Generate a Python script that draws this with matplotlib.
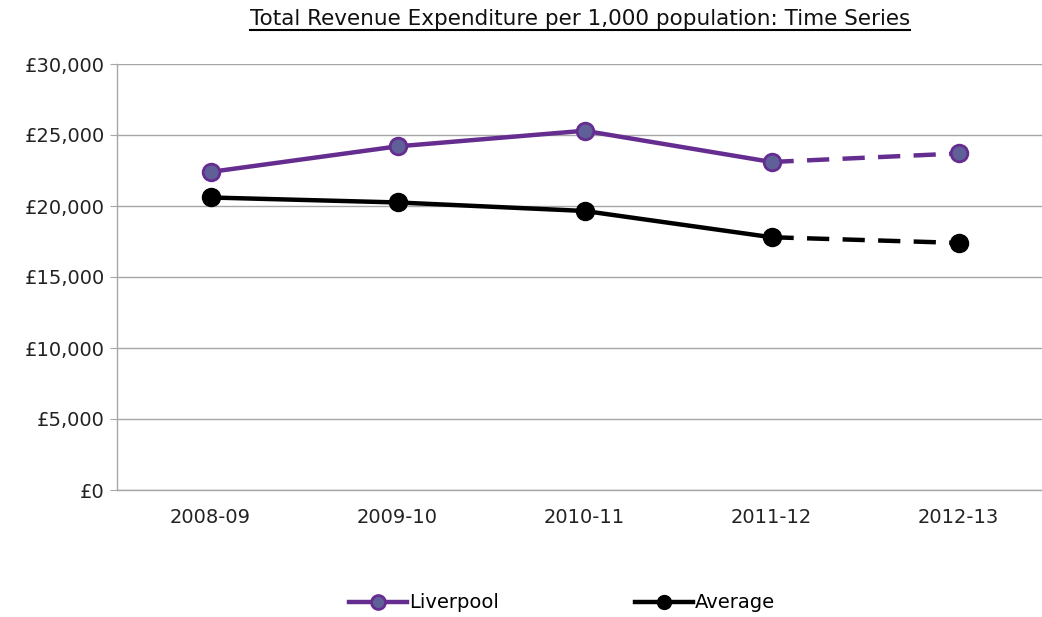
import matplotlib
matplotlib.use("Agg")
from matplotlib import pyplot as plt
from matplotlib.lines import Line2D

# Data
years = ["2008-09", "2009-10", "2010-11", "2011-12", "2012-13"]
liverpool = [22400, 24200, 25300, 23100, 23700]
average = [20600, 20250, 19650, 17800, 17400]

purple = "#662D91"
purple_face = "#606098"
grey = "#A6A6A6"

plt.rcParams["font.family"] = ["DejaVu Sans"]

fig = plt.figure(figsize=(10.42, 6.17), dpi=100)
ax = fig.add_axes([117 / 1042, 127 / 617, 935 / 1042, 426 / 617])

x = list(range(len(years)))

# Liverpool: solid to 2011-12, dashed for the last segment
ax.plot(x[:4], liverpool[:4], color=purple, lw=3.2, zorder=3)
ax.plot(x[3:], liverpool[3:], color=purple, lw=3.2, ls=(0, (5, 3)), zorder=3)
ax.plot(x, liverpool, ls="none", marker="o", ms=12, mfc=purple_face,
        mec=purple, mew=2, zorder=4)

# Average
ax.plot(x[:4], average[:4], color="black", lw=3.2, zorder=3)
ax.plot(x[3:], average[3:], color="black", lw=3.2, ls=(0, (5, 3)), zorder=3)
ax.plot(x, average, ls="none", marker="o", ms=13, mfc="black",
        mec="black", zorder=4)

ax.set_xlim(-0.5, 4.5)
ax.set_ylim(0, 30000)
ax.set_yticks(range(0, 30001, 5000))
ax.set_yticklabels(["£{:,}".format(v) for v in range(0, 30001, 5000)])
ax.set_xticks(x)
ax.set_xticklabels(years)

ax.grid(axis="y", color=grey, lw=1)
ax.set_axisbelow(True)
for side in ["top", "right"]:
    ax.spines[side].set_visible(False)
for side in ["left", "bottom"]:
    ax.spines[side].set_color(grey)
    ax.spines[side].set_linewidth(1)

ax.tick_params(axis="y", length=5, color=grey, labelsize=14, pad=4,
               labelcolor="#222222")
ax.tick_params(axis="x", length=0, labelsize=14, pad=13,
               labelcolor="#222222")

# Legend
handles = [
    Line2D([], [], color=purple, lw=3.2, marker="o", ms=10,
           mfc=purple_face, mec=purple, mew=2),
    Line2D([], [], color="black", lw=3.2, marker="o", ms=10,
           mfc="black", mec="black"),
]
fig.legend(handles, ["Liverpool", "Average"], loc="center",
           bbox_to_anchor=(562 / 1042, 1 - 603 / 617), ncol=2,
           frameon=False, fontsize=14, handlelength=3.0,
           handletextpad=0.1, columnspacing=7.0)

# Underlined title
title = fig.text(580 / 1042, 1 - 19 / 617,
                 "Total Revenue Expenditure per 1,000 population: Time Series",
                 ha="center", va="center", fontsize=15.5, color="#111111")
fig.canvas.draw()
bb = title.get_window_extent().transformed(fig.transFigure.inverted())
fig.add_artist(Line2D([bb.x0, bb.x1], [bb.y0 - 0.001, bb.y0 - 0.001],
                      color="black", lw=1.5, transform=fig.transFigure))

fig.savefig("out.png", dpi=100)
